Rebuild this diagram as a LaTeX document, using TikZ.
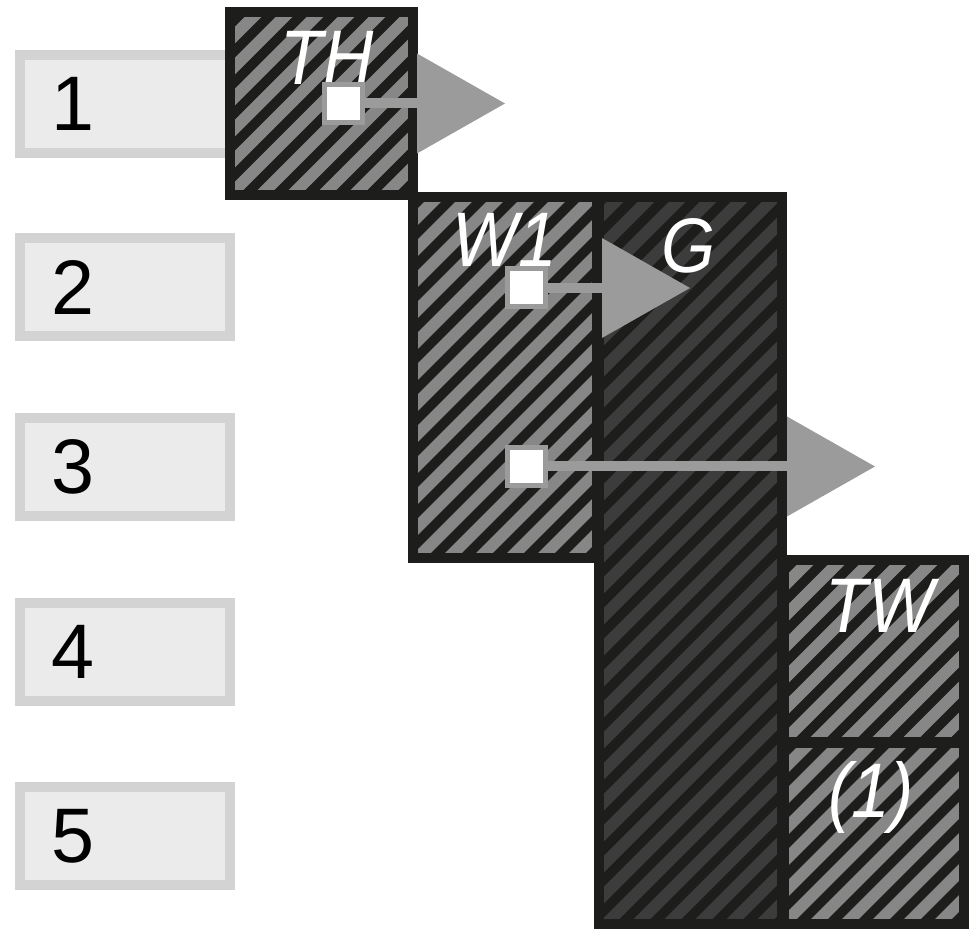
\documentclass[tikz,border=0pt]{standalone}
\usepackage{fontspec}
\setmainfont{Liberation Sans}
\newfontfamily\tagfont{Liberation Sans}[FakeStretch=0.9]
\usetikzlibrary{arrows.meta}
\definecolor{ink}{HTML}{1D1D1B}
\definecolor{stripelt}{HTML}{878787}
\definecolor{stripedk}{HTML}{3C3C3C}
\definecolor{flowgray}{HTML}{9B9B9B}
\definecolor{rowline}{HTML}{D3D3D3}
\definecolor{rowfill}{HTML}{EBEBEB}

\begin{document}
\begin{tikzpicture}[
 row/.style={draw=rowline,fill=rowfill,line width=1mm,minimum width=2.1cm,minimum height=9.8mm,text width=1.46cm,inner xsep=3.2mm,align=left,font=\fontsize{22}{24}\selectfont},
 hatch/.style={draw=ink,fill=ink,line width=1mm,inner sep=0pt,path picture={
   \foreach \k in {-16,...,16}
    \draw[#1,line width=1.2mm] (\k*0.31-6,-6) -- ++(12,12);}},
 tag/.style={text=white,font=\tagfont\itshape\fontsize{22}{24}\selectfont,inner sep=0pt},
 port/.style={draw=flowgray,fill=white,line width=0.5mm,minimum size=3.8mm,inner sep=0pt},
 flow/.style={draw=flowgray,line width=1mm,-{Triangle[length=8.8mm,width=10mm,line width=0pt]}}]
 \useasboundingbox (0,0) rectangle (9.69,-9.30);
 % rows
 \node[row] (r1) at (1.25,-1.04) {1};
 \node[row] (r2) at (1.25,-2.875) {2};
 \node[row] (r3) at (1.25,-4.67) {3};
 \node[row] (r4) at (1.25,-6.52) {4};
 \node[row] (r5) at (1.25,-8.365) {5};
 % blocks
 \node[hatch=stripelt,minimum width=1.83cm,minimum height=1.83cm] (th) at (3.215,-1.035) {};
 \node[hatch=stripedk,minimum width=1.83cm,minimum height=7.27cm] (g) at (6.905,-5.605) {};
 \node[hatch=stripelt,minimum width=1.84cm,minimum height=3.61cm] (w1) at (5.05,-3.775) {};
 \node[hatch=stripelt,minimum width=1.8cm,minimum height=1.82cm] (tw) at (8.74,-6.51) {};
 \node[hatch=stripelt,minimum width=1.8cm,minimum height=1.81cm] (p1) at (8.74,-8.335) {};
 \node[tag] (tht) at (3.27,-0.58) {TH};
 \node[tag] (w1t) at (5.05,-2.40) {W1};
 \node[tag] (gt) at (6.89,-2.46) {G};
 \node[tag] (twt) at (8.80,-6.06) {TW};
 \node[tag] (p1t) at (8.71,-7.97) {(1)};
 % flows
 \node[port] (s1) at (3.435,-1.035) {};
 \node[port] (s2) at (5.265,-2.88) {};
 \node[port] (s3) at (5.265,-4.665) {};
 \coordinate (e1) at (5.05,-1.035);
 \coordinate (e2) at (6.90,-2.88);
 \coordinate (e3) at (8.75,-4.665);
 \draw[flow] (s1) -- (e1);
 \draw[flow] (s2) -- (e2);
 \draw[flow] (s3) -- (e3);
\end{tikzpicture}
\end{document}
